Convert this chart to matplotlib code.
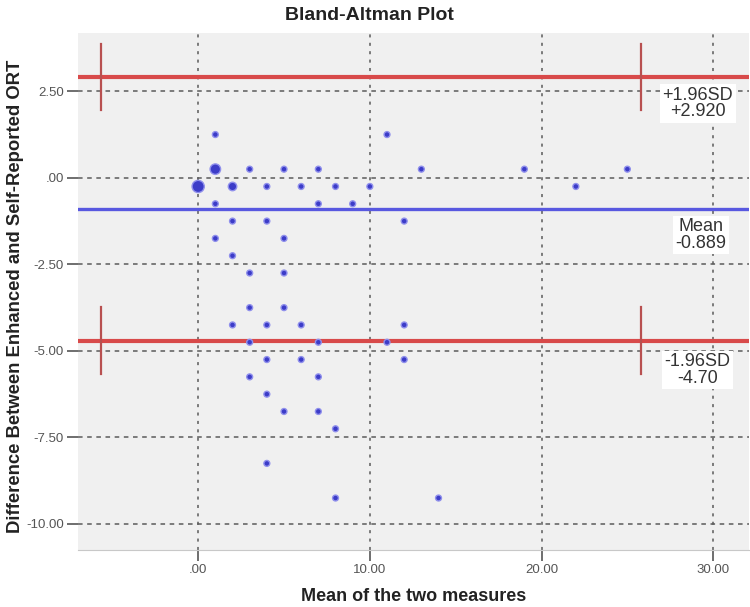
import matplotlib
matplotlib.use("Agg")
import matplotlib.pyplot as plt
import numpy as np

plt.rcParams["font.family"] = ["Liberation Sans", "DejaVu Sans"]

# mean of the two measures (x) and their difference (y)
mean_vals = [1, 11,
             1, 3, 5, 7, 13, 19, 25,
             0, 2, 4, 6, 8, 10, 22,
             1, 7, 9,
             2, 4, 12,
             1, 5,
             2,
             3, 5,
             3, 5,
             2, 4, 6, 12,
             3, 7, 11,
             4, 6, 12,
             3, 7,
             4,
             5, 7,
             8,
             4,
             8, 14]
diff_vals = [1.25, 1.25,
             0.25, 0.25, 0.25, 0.25, 0.25, 0.25, 0.25,
             -0.25, -0.25, -0.25, -0.25, -0.25, -0.25, -0.25,
             -0.75, -0.75, -0.75,
             -1.25, -1.25, -1.25,
             -1.75, -1.75,
             -2.25,
             -2.75, -2.75,
             -3.75, -3.75,
             -4.25, -4.25, -4.25, -4.25,
             -4.75, -4.75, -4.75,
             -5.25, -5.25, -5.25,
             -5.75, -5.75,
             -6.25,
             -6.75, -6.75,
             -7.25,
             -8.25,
             -9.25, -9.25]
# overlapping cases at a point (drives marker size)
point_counts = [1, 1,
                3, 1, 1, 1, 1, 1, 1,
                4, 2, 1, 1, 1, 1, 1] + [1] * 32

mean_diff = -0.889
upper_loa = 2.920
lower_loa = -4.70
x_ticks = [0, 10, 20, 30]
x_tick_labels = [".00", "10.00", "20.00", "30.00"]
y_ticks = [2.5, 0, -2.5, -5, -7.5, -10]
y_tick_labels = ["2.50", ".00", "-2.50", "-5.00", "-7.50", "-10.00"]

RED = "#d84a4a"
BLUE = "#5858e0"
GRID = "#5a5a5a"

fig = plt.figure(figsize=(7.5, 6.07), dpi=100)
ax = fig.add_axes([0.104, 0.094, 0.895, 0.852])
ax.set_facecolor("#f0f0f0")

ax.set_xlim(-7.0, 32.1)
ax.set_ylim(-10.75, 4.19)

for xt in x_ticks:
    ax.axvline(xt, color=GRID, linestyle=(0, (2, 3.5)), linewidth=1.1, zorder=1)
for yt in y_ticks:
    ax.axhline(yt, color=GRID, linestyle=(0, (3, 3)), linewidth=1.1, zorder=1)

# limits of agreement and mean
for yv in (upper_loa, lower_loa):
    ax.axhline(yv, color=RED, linewidth=3.0, zorder=3)
    for xv in (-5.66, 25.77):
        ax.plot([xv, xv], [yv - 0.96, yv + 0.96], color="#b85050",
                linewidth=1.6, zorder=3)
ax.axhline(mean_diff, color=BLUE, linewidth=2.4, zorder=3)

sizes = [18 * c ** 1.05 for c in point_counts]
ax.scatter(mean_vals, diff_vals, s=sizes, color="#3c3cc8",
           edgecolors="#9090ec", linewidths=1.0, zorder=4)

box = dict(boxstyle="square,pad=0.15", facecolor="white", edgecolor="none")
lbl = dict(ha="center", va="center", fontsize=13, color="#333333",
           bbox=box, zorder=5, linespacing=0.95)
ax.text(29.1, 2.15, f"+1.96SD\n+{upper_loa:.3f}", **lbl)
ax.text(29.3, -1.65, f"Mean\n{mean_diff:.3f}", **lbl)
ax.text(29.1, -5.55, f"-1.96SD\n{lower_loa:.2f}", **lbl)

ax.set_xticks(x_ticks)
ax.set_xticklabels(x_tick_labels)
ax.set_yticks(y_ticks)
ax.set_yticklabels(y_tick_labels)
ax.tick_params(axis="both", direction="out", length=8, width=1.2, pad=2,
               color="#555555", labelcolor="#555555", labelsize=9.5)

for side in ("top", "right", "left"):
    ax.spines[side].set_visible(False)
ax.spines["bottom"].set_color("#c8c8c8")

fig.text(0.493, 0.975, "Bland-Altman Plot", ha="center", va="center",
         fontsize=14, fontweight="bold", color="#222222")
fig.text(0.552, 0.017, "Mean of the two measures", ha="center", va="center",
         fontsize=13, fontweight="bold", color="#222222")
fig.text(0.021, 0.512, "Difference Between Enhanced and Self-Reported ORT",
         ha="center", va="center", rotation=90, fontsize=13.3,
         fontweight="bold", color="#222222")

fig.savefig("out.png", dpi=100)
